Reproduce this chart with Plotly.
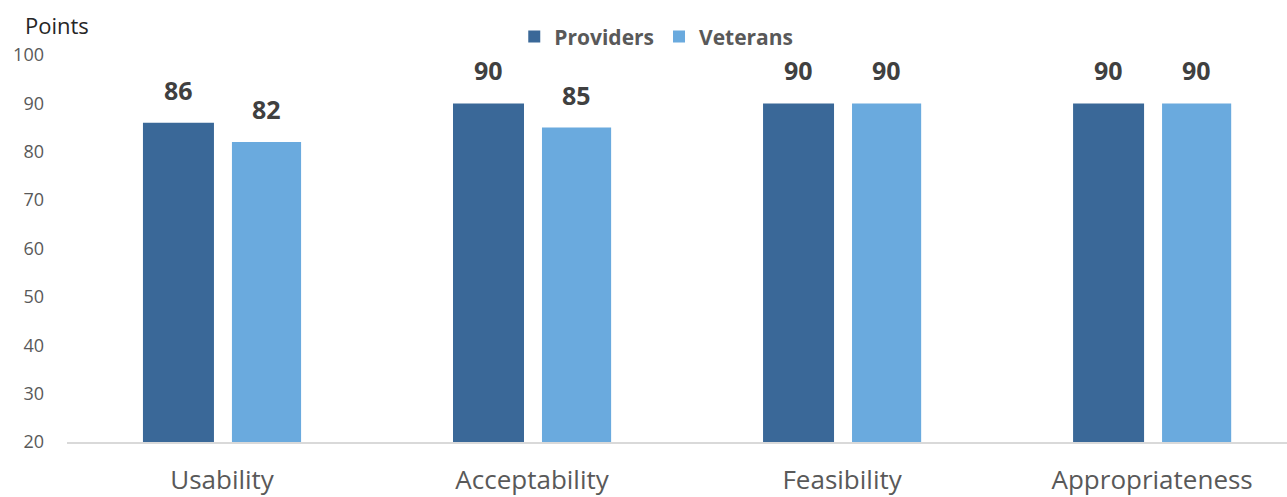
import plotly.graph_objects as go

categories = ["Usability", "Acceptability", "Feasibility", "Appropriateness"]
providers = [86, 90, 90, 90]
veterans = [82, 85, 90, 90]
y_ticks = [20, 30, 40, 50, 60, 70, 80, 90, 100]

DARK = "#3A6898"
LIGHT = "#6AAADE"
FONT = "Open Sans"

fig = go.Figure()
fig.add_trace(go.Bar(name="<b>Providers</b>", x=categories, y=providers, marker_color=DARK,
                     marker_line_width=0, offset=-0.255, width=0.229))
fig.add_trace(go.Bar(name="<b>Veterans</b>", x=categories, y=veterans, marker_color=LIGHT,
                     marker_line_width=0, offset=0.032, width=0.223))

for i, c in enumerate(categories):
    for val, off in ((providers[i], -0.255 + 0.229 / 2), (veterans[i], 0.032 + 0.223 / 2)):
        fig.add_annotation(x=i + off, y=val, xref="x", yref="y", text=f"<b>{val}</b>",
                           showarrow=False, yanchor="bottom", yshift=14,
                           font=dict(family=FONT, size=25, color="#404040"))

fig.add_annotation(x=-0.036, y=1.078, xref="paper", yref="paper", text="Points",
                   showarrow=False, xanchor="left", yanchor="middle",
                   font=dict(family=FONT, size=22, color="#262626"))

fig.update_layout(
    width=1287, height=497,
    margin=dict(l=67, r=0, t=55, b=55, autoexpand=False),
    plot_bgcolor="white", paper_bgcolor="white",
    font=dict(family=FONT, color="#595959"),
    showlegend=True,
    legend=dict(orientation="h", x=0.483, xanchor="center", y=1.047, yanchor="middle",
                font=dict(family=FONT, size=21, color="#595959"), itemwidth=30,
                traceorder="normal"),
    xaxis=dict(type="category", range=[-0.5, 3.435], showgrid=False, automargin=False,
               showline=True, linecolor="#D9D9D9", linewidth=2, ticks="",
               tickfont=dict(family=FONT, size=26, color="#595959"),
               ticklabelstandoff=14),
    yaxis=dict(range=[20, 100], tickvals=y_ticks, showgrid=False, zeroline=False,
               automargin=False, showline=False, ticks="", ticklabelstandoff=22,
               tickfont=dict(family=FONT, size=18, color="#595959")),
)

fig.write_html("out.html")
